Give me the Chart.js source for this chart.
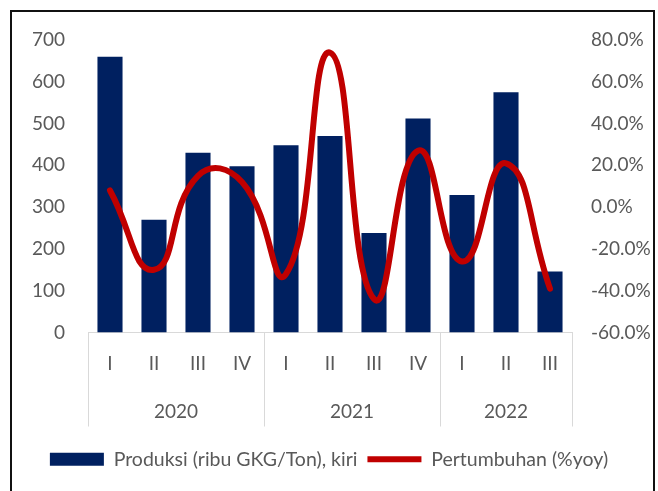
<!DOCTYPE html>
<html>
<head>
<meta charset="utf-8">
<script src="https://cdn.jsdelivr.net/npm/chart.js@4.4.0/dist/chart.umd.min.js"></script>
<style>
  html, body { margin: 0; padding: 0; background: #fff; }
  #wrap { position: relative; width: 658px; height: 491px; overflow: hidden; }
  #frame { position: absolute; left: 10px; top: 10px; width: 645px; height: 520px; border: 2px solid #111; box-sizing: border-box; }
  #c { position: absolute; left: 0; top: 0; }
</style>
</head>
<body>
<div id="wrap">
  <div id="frame"></div>
  <canvas id="c" width="658" height="491"></canvas>
</div>
<script>
// quarters and the year each one belongs to
const quarters = ["I", "II", "III", "IV", "I", "II", "III", "IV", "I", "II", "III"];
const years = ["2020", "2020", "2020", "2020", "2021", "2021", "2021", "2021", "2022", "2022", "2022"];

// Produksi (ribu GKG/Ton), left axis
const produksi = [660, 270, 430, 398, 448, 470, 238, 512, 329, 575, 146];
// Pertumbuhan (%yoy), right axis
const pertumbuhan = [8, -30, 15, 12, -32, 74, -44, 27, -26, 21, -39];

const leftMin = 0, leftMax = 700, leftStep = 100;
const rightMin = -60, rightMax = 80, rightStep = 20;

const FONT = "Lato, 'Liberation Sans', sans-serif";
const GREY = "#595959";
const AXIS_LINE = "#d9d9d9";

// year labels under the quarter labels, with separator lines between the groups
const yearGroups = {
  id: "yearGroups",
  afterDraw(chart) {
    const x = chart.scales.x;
    const ctx = chart.ctx;
    const n = quarters.length;
    const step = (x.right - x.left) / n;
    const top = chart.chartArea.bottom;
    const bottom = top + 94;

    const groups = [];
    years.forEach((y, i) => {
      const last = groups[groups.length - 1];
      if (last && last.label === y) last.end = i;
      else groups.push({ label: y, start: i, end: i });
    });

    ctx.save();
    ctx.strokeStyle = AXIS_LINE;
    ctx.lineWidth = 1;
    ctx.fillStyle = GREY;
    ctx.font = "19px " + FONT;
    ctx.textAlign = "center";
    ctx.textBaseline = "middle";
    groups.forEach((g, k) => {
      const x0 = x.getPixelForValue(g.start) - step / 2;
      const x1 = x.getPixelForValue(g.end) + step / 2;
      if (k === 0) {
        ctx.beginPath();
        ctx.moveTo(Math.round(x0) + 0.5, top);
        ctx.lineTo(Math.round(x0) + 0.5, bottom);
        ctx.stroke();
      }
      ctx.beginPath();
      ctx.moveTo(Math.round(x1) + 0.5, top);
      ctx.lineTo(Math.round(x1) + 0.5, bottom);
      ctx.stroke();
      ctx.fillText(g.label, (x0 + x1) / 2, top + 79);
    });
    ctx.restore();
  }
};

new Chart(document.getElementById("c").getContext("2d"), {
  type: "bar",
  data: {
    labels: quarters,
    datasets: [
      {
        type: "bar",
        label: "Produksi (ribu GKG/Ton), kiri",
        data: produksi,
        backgroundColor: "#002060",
        borderWidth: 0,
        barPercentage: 0.57,
        categoryPercentage: 1,
        yAxisID: "y",
        pointStyle: "rect",
        order: 2
      },
      {
        type: "line",
        label: "Pertumbuhan (%yoy)",
        data: pertumbuhan,
        borderColor: "#C00000",
        backgroundColor: "#C00000",
        borderWidth: 6,
        borderCapStyle: "round",
        pointRadius: 0,
        tension: 0.5,
        yAxisID: "y1",
        pointStyle: "line",
        order: 1
      }
    ]
  },
  options: {
    responsive: false,
    animation: false,
    layout: { padding: { top: 40, bottom: 12, left: 0, right: 0 } },
    plugins: {
      tooltip: { enabled: false },
      legend: {
        position: "bottom",
        labels: {
          usePointStyle: true,
          pointStyleWidth: 54,
          boxHeight: 13,
          padding: 10,
          color: GREY,
          font: { family: FONT, size: 19.5 },
          sort: (a, b) => a.datasetIndex - b.datasetIndex
        }
      }
    },
    scales: {
      x: {
        offset: true,
        grid: { display: false, drawTicks: false },
        border: { color: AXIS_LINE, width: 1 },
        ticks: { color: GREY, font: { family: FONT, size: 19 }, padding: 20, maxRotation: 0 },
        afterFit(s) { s.height = 107; }
      },
      y: {
        position: "left",
        min: leftMin,
        max: leftMax,
        grid: { display: false, drawTicks: false },
        border: { display: false },
        ticks: { stepSize: leftStep, color: GREY, font: { family: FONT, size: 19 }, padding: 23 },
        afterFit(s) { s.width = 88; }
      },
      y1: {
        position: "right",
        min: rightMin,
        max: rightMax,
        grid: { display: false, drawTicks: false },
        border: { display: false },
        ticks: {
          stepSize: rightStep,
          color: GREY,
          font: { family: FONT, size: 19 },
          padding: 19,
          callback: v => v.toFixed(1) + "%"
        },
        afterFit(s) { s.width = 86; }
      }
    }
  },
  plugins: [yearGroups]
});
</script>
</body>
</html>
